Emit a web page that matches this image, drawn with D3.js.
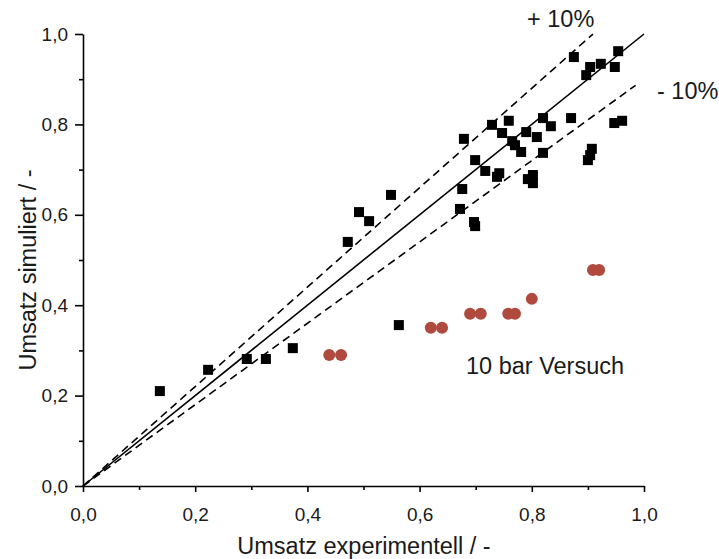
<!DOCTYPE html>
<html><head><meta charset="utf-8">
<script src="https://cdn.jsdelivr.net/npm/d3@7"></script>
<style>body{margin:0;background:#fff}svg{display:block}text{font-family:"Liberation Sans",Arial,sans-serif;fill:#1a1a1a}</style>
</head><body><svg id="c" width="719" height="559"></svg>
<script>
const squareX=[0.137,0.223,0.292,0.326,0.374,0.563,0.472,0.492,0.510,0.549,0.672,0.676,0.679,0.697,0.699,0.699,0.717,0.738,0.742,0.729,0.747,0.759,0.765,0.770,0.781,0.790,0.802,0.793,0.802,0.809,0.820,0.820,0.834,0.870,0.875,0.897,0.904,0.923,0.948,0.954,0.947,0.961,0.907,0.904,0.900];
const squareY=[0.210,0.257,0.281,0.281,0.305,0.356,0.540,0.606,0.586,0.644,0.613,0.657,0.768,0.584,0.575,0.721,0.697,0.684,0.692,0.799,0.781,0.808,0.763,0.754,0.739,0.783,0.688,0.679,0.670,0.772,0.814,0.737,0.796,0.814,0.949,0.909,0.927,0.934,0.927,0.962,0.803,0.808,0.746,0.732,0.721];
const circleX=[0.439,0.460,0.620,0.640,0.690,0.709,0.758,0.770,0.800,0.909,0.920];
const circleY=[0.290,0.290,0.350,0.350,0.381,0.381,0.381,0.381,0.414,0.478,0.478];
const tickValues=[0,0.2,0.4,0.6,0.8,1.0];
const tickLabels=["0,0","0,2","0,4","0,6","0,8","1,0"];
const minorTicks=[0.1,0.3,0.5,0.7,0.9];
const refLines=[{f:1.0,xmax:1.0,dash:null},{f:1.1,xmax:0.909,dash:"8,5"},{f:0.9,xmax:0.985,dash:"8,5"}];

const svg=d3.select("#c");
const x=d3.scaleLinear().domain([0,1]).range([83,644]);
const y=d3.scaleLinear().domain([0,1]).range([486,34]);

// axes
const xa=svg.append("g").attr("transform","translate(0,486)")
 .call(d3.axisBottom(x).tickValues(tickValues).tickFormat((d,i)=>tickLabels[i]).tickSize(6).tickSizeOuter(0).tickPadding(16));
const xm=svg.append("g").attr("transform","translate(0,486)")
 .call(d3.axisBottom(x).tickValues(minorTicks).tickFormat("").tickSize(4).tickSizeOuter(0));
const ya=svg.append("g").attr("transform","translate(83,0)")
 .call(d3.axisLeft(y).tickValues(tickValues).tickFormat((d,i)=>tickLabels[i]).tickSize(8).tickSizeOuter(0).tickPadding(7));
const ym=svg.append("g").attr("transform","translate(83,0)")
 .call(d3.axisLeft(y).tickValues(minorTicks).tickFormat("").tickSize(4).tickSizeOuter(0));
[xa,xm,ya,ym].forEach(g=>{g.selectAll("path,line").attr("stroke","#000").attr("stroke-width",1.6);g.selectAll("text").attr("font-size",19).attr("fill","#1a1a1a").style("font-family","'Liberation Sans',Arial,sans-serif");});
xm.select("path").remove();ym.select("path").remove();

// reference lines
refLines.forEach(r=>{
 svg.append("line").attr("x1",x(0)).attr("y1",y(0)).attr("x2",x(r.xmax)).attr("y2",y(r.xmax*r.f))
  .attr("stroke","#000").attr("stroke-width",1.6).attr("stroke-dasharray",r.dash);
});

// squares
const s=10;
svg.append("g").selectAll("rect").data(squareX.map((d,i)=>[d,squareY[i]])).join("rect")
 .attr("x",d=>x(d[0])-s/2).attr("y",d=>y(d[1])-s/2).attr("width",s).attr("height",s).attr("fill","#000");
// circles
svg.append("g").selectAll("circle").data(circleX.map((d,i)=>[d,circleY[i]])).join("circle")
 .attr("cx",d=>x(d[0])).attr("cy",d=>y(d[1])).attr("r",6).attr("fill","#b04a3e");

// labels
svg.append("text").attr("x",364).attr("y",554).attr("text-anchor","middle").attr("font-size",23.5).text("Umsatz experimentell / -");
svg.append("text").attr("transform","translate(36,270) rotate(-90)").attr("text-anchor","middle").attr("font-size",23.5).text("Umsatz simuliert / -");
svg.append("text").attr("x",527).attr("y",27).attr("font-size",23.5).text("+ 10%");
svg.append("text").attr("x",657).attr("y",99).attr("font-size",23.5).text("- 10%");
svg.append("text").attr("x",466).attr("y",374).attr("font-size",23.5).text("10 bar Versuch");
</script></body></html>
